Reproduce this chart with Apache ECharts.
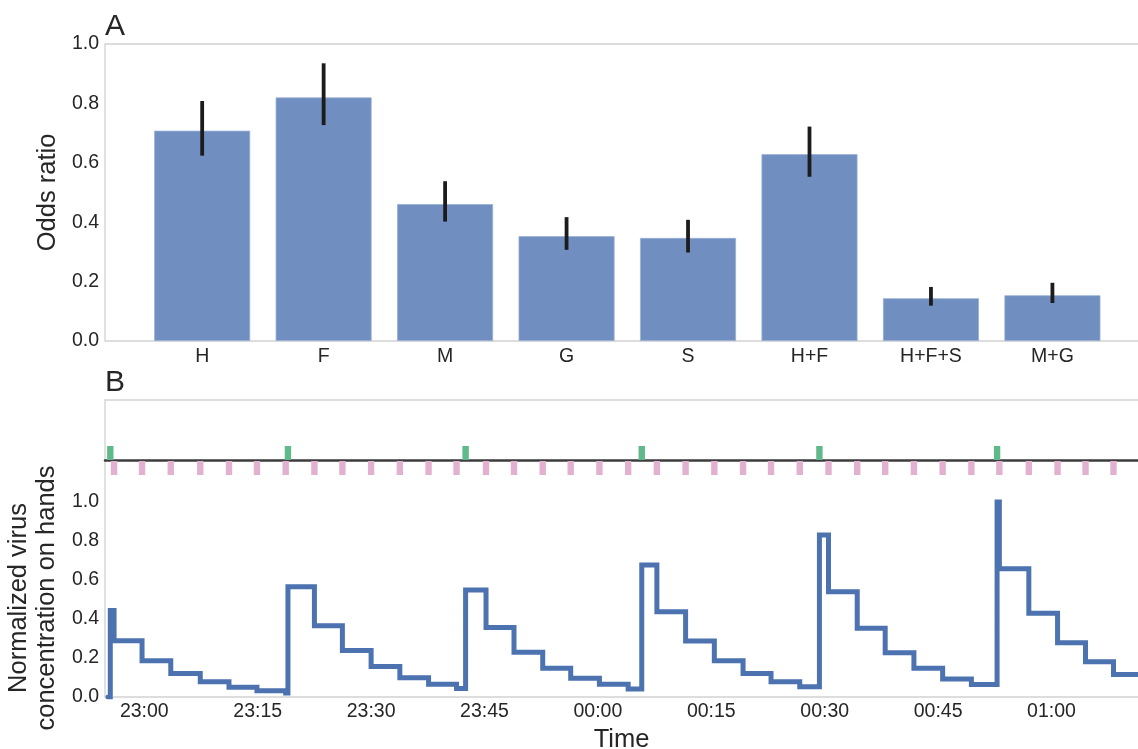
<!DOCTYPE html>
<html>
<head>
<meta charset="utf-8">
<script src="https://cdn.jsdelivr.net/npm/echarts@6/dist/echarts.min.js"></script>
<style>
html, body { margin: 0; padding: 0; background: #ffffff; }
#chart { width: 1138px; height: 749px; }
</style>
</head>
<body>
<div id="chart"></div>
<script>
// ---------- Panel A data ----------
const categories = ['H', 'F', 'M', 'G', 'S', 'H+F', 'H+F+S', 'M+G'];
const oddsRatio  = [0.708, 0.820, 0.461, 0.353, 0.347, 0.629, 0.144, 0.154];
const ciLow      = [0.624, 0.727, 0.402, 0.307, 0.298, 0.553, 0.119, 0.128];
const ciHigh     = [0.808, 0.935, 0.538, 0.417, 0.408, 0.722, 0.182, 0.196];
const oddsTicks  = [0, 0.2, 0.4, 0.6, 0.8, 1.0];

// ---------- Panel B data (time in minutes after 23:00) ----------
const greenEventTimes = [-4.5, 19.0, 42.5, 65.8, 89.3, 112.8];
const pinkEventTimes = [-4.0, -0.3, 3.5, 7.4, 11.2, 14.9, 18.7, 22.5, 26.2, 30.0, 33.8, 37.6,
  41.3, 45.2, 48.9, 52.7, 56.4, 60.2, 64.0, 67.8, 71.6, 75.4, 79.2, 82.9, 86.7, 90.5, 94.3,
  98.0, 101.8, 105.6, 109.4, 113.1, 117.0, 120.8, 124.5, 128.2];
const stepTimes = [-4.8, -4.5, -4.0, -0.3, 3.5, 7.4, 11.2, 14.9, 18.7, 19.0,
  22.5, 26.2, 30.0, 33.8, 37.6, 41.3, 42.5,
  45.2, 48.9, 52.7, 56.4, 60.2, 64.0, 65.8,
  67.8, 71.6, 75.4, 79.2, 82.9, 86.7, 89.3,
  90.5, 94.3, 98.0, 101.8, 105.6, 109.4, 112.8,
  113.1, 117.0, 120.8, 124.5, 128.2, 131.44];
const stepValues = [0, 0.443, 0.289, 0.186, 0.121, 0.078, 0.050, 0.032, 0.021, 0.565,
  0.366, 0.238, 0.156, 0.099, 0.065, 0.043, 0.549,
  0.357, 0.229, 0.147, 0.096, 0.065, 0.041, 0.677,
  0.437, 0.287, 0.186, 0.121, 0.078, 0.053, 0.831,
  0.540, 0.352, 0.227, 0.147, 0.092, 0.064, 1.0,
  0.658, 0.429, 0.278, 0.181, 0.116, 0.116];
const virusTicks = [0, 0.2, 0.4, 0.6, 0.8, 1.0];
const timeTicks = [0, 15, 30, 45, 60, 75, 90, 105, 120];

// ---------- Rendering ----------
const FONT = 'Liberation Sans, Arial, sans-serif';
const TXT = '#262626';
const FRAME = '#d2d2d2';
const TMIN = -5.2, TMAX = 131.44;

function clockLabel(m) {
  const tot = ((23 * 60 + Math.round(m)) % 1440 + 1440) % 1440;
  const h = Math.floor(tot / 60), mm = tot % 60;
  return String(h).padStart(2, '0') + ':' + String(mm).padStart(2, '0');
}

const chart = echarts.init(document.getElementById('chart'), null, { renderer: 'canvas' });

const hiddenAxisBits = {
  axisTick: { show: false },
  splitLine: { show: false },
  axisLine: { show: false }
};

const gridBase = { containLabel: false, outerBoundsMode: 'none' };

const option = {
  animation: false,
  backgroundColor: '#ffffff',
  textStyle: { fontFamily: FONT, color: TXT },
  graphic: [
    { type: 'text', left: 105, top: 12, style: { text: 'A', fontSize: 30, fontFamily: FONT, fill: TXT } },
    { type: 'text', left: 105, top: 368, style: { text: 'B', fontSize: 30, fontFamily: FONT, fill: TXT } }
  ],
  grid: [
    { ...gridBase, left: 105, right: -2, top: 44, height: 297, show: true, borderColor: FRAME, borderWidth: 1.3, backgroundColor: 'transparent' },
    { ...gridBase, left: 105, right: -2, top: 400, height: 297, show: true, borderColor: FRAME, borderWidth: 1.3, backgroundColor: 'transparent' },
    { ...gridBase, left: 105, right: 0, top: 400, height: 80 },
    { ...gridBase, left: 105, right: 0, top: 499, height: 198 }
  ],
  xAxis: [
    {
      gridIndex: 0, type: 'value', min: -0.8, max: 7.721,
      ...hiddenAxisBits,
      axisLabel: {
        customValues: categories.map((c, i) => i),
        formatter: v => categories[Math.round(v)] || '',
        fontSize: 19.5, color: TXT, margin: 6, fontFamily: FONT
      }
    },
    { gridIndex: 1, type: 'value', min: 0, max: 1, show: false },
    {
      gridIndex: 2, type: 'value', min: TMIN, max: TMAX,
      axisTick: { show: false }, splitLine: { show: false },
      axisLabel: { show: false },
      axisLine: { show: true, onZero: true, lineStyle: { color: '#3c3c3c', width: 2.5 } }
    },
    {
      gridIndex: 3, type: 'value', min: TMIN, max: TMAX,
      ...hiddenAxisBits,
      axisLabel: {
        customValues: timeTicks,
        formatter: v => clockLabel(v),
        fontSize: 19.5, color: TXT, margin: 5, fontFamily: FONT
      },
      name: 'Time', nameLocation: 'middle', nameGap: 30,
      nameTextStyle: { fontSize: 25.5, color: TXT, fontFamily: FONT }
    }
  ],
  yAxis: [
    {
      gridIndex: 0, type: 'value', min: 0, max: 1, interval: 0.2,
      ...hiddenAxisBits,
      axisLabel: {
        customValues: oddsTicks,
        formatter: v => v.toFixed(1),
        fontSize: 19.5, color: TXT, margin: 6, fontFamily: FONT
      },
      name: 'Odds ratio', nameLocation: 'middle', nameGap: 37,
      nameTextStyle: { fontSize: 25.5, color: TXT, fontFamily: FONT }
    },
    { gridIndex: 1, type: 'value', min: 0, max: 1, show: false },
    { gridIndex: 2, type: 'value', min: -20, max: 60, show: false },
    {
      gridIndex: 3, type: 'value', min: 0, max: 198 / 195,
      ...hiddenAxisBits,
      axisLabel: {
        customValues: virusTicks,
        formatter: v => v.toFixed(1),
        fontSize: 19.5, color: TXT, margin: 6, fontFamily: FONT
      },
      name: 'Normalized virus\nconcentration on hands', nameLocation: 'middle', nameGap: 37,
      nameTextStyle: { fontSize: 25.5, lineHeight: 28, color: TXT, fontFamily: FONT, align: 'center' }
    }
  ],
  series: [
    {
      type: 'bar', xAxisIndex: 0, yAxisIndex: 0,
      data: oddsRatio.map((v, i) => [i, v]),
      barWidth: 96,
      itemStyle: { color: '#708ec0', borderColor: '#98b0d6', borderWidth: 0.8 }
    },
    {
      type: 'custom', xAxisIndex: 0, yAxisIndex: 0,
      data: categories.map((c, i) => [i, ciLow[i], ciHigh[i]]),
      encode: { x: 0, y: [1, 2] },
      renderItem: (params, api) => {
        const lo = api.coord([api.value(0), api.value(1)]);
        const hi = api.coord([api.value(0), api.value(2)]);
        return { type: 'line', shape: { x1: lo[0], y1: lo[1], x2: hi[0], y2: hi[1] },
                 style: { stroke: '#1c1c1c', lineWidth: 3.8 } };
      },
      z: 5
    },
    {
      type: 'custom', xAxisIndex: 2, yAxisIndex: 2,
      data: greenEventTimes.map(t => [t]),
      encode: { x: 0 },
      renderItem: (params, api) => {
        const base = api.coord([api.value(0), 0]);
        const top = api.coord([api.value(0), 14]);
        return { type: 'rect', shape: { x: base[0] - 3.2, y: top[1], width: 6.4, height: base[1] - top[1] },
                 style: { fill: '#5fb98b' } };
      },
      z: 3
    },
    {
      type: 'custom', xAxisIndex: 2, yAxisIndex: 2,
      data: pinkEventTimes.map(t => [t]),
      encode: { x: 0 },
      renderItem: (params, api) => {
        const a = api.coord([api.value(0), -1]);
        const b = api.coord([api.value(0), -15]);
        return { type: 'rect', shape: { x: a[0] - 3.2, y: a[1], width: 6.4, height: b[1] - a[1] },
                 style: { fill: '#e1b1cf' } };
      },
      z: 3
    },
    {
      type: 'line', xAxisIndex: 3, yAxisIndex: 3,
      data: stepTimes.map((t, i) => [t, stepValues[i]]),
      step: 'end',
      symbol: 'none',
      lineStyle: { color: '#4c72b0', width: 5, cap: 'round', join: 'miter' },
      z: 4
    }
  ]
};

chart.setOption(option);
</script>
</body>
</html>
